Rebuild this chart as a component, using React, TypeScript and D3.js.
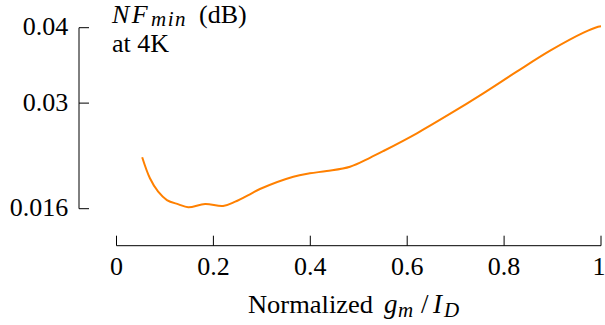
import React from 'react';
import { scaleLinear, line, curveCatmullRom } from 'd3';

// normalized gm/Id vs NFmin at 4K
const gmId = [0.053, 0.069, 0.086, 0.104, 0.128, 0.148, 0.183, 0.220, 0.245, 0.279, 0.296, 0.365, 0.399, 0.434, 0.482, 0.523, 0.551, 0.620, 0.688, 0.757, 0.826, 0.895, 0.964, 0.994, 1.0];
const nfMin = [0.02282, 0.02003, 0.01825, 0.01715, 0.01658, 0.01619, 0.01662, 0.01636, 0.01693, 0.01804, 0.01861, 0.02024, 0.02069, 0.0210, 0.02157, 0.02275, 0.02365, 0.0260, 0.02856, 0.0313, 0.03417, 0.03695, 0.03934, 0.04013, 0.0402];

const xTicks = [0, 0.2, 0.4, 0.6, 0.8, 1];
const yTicks = [0.016, 0.03, 0.04];

const W = 605, H = 325;
const FONT = "'Liberation Serif', 'DejaVu Serif', 'Times New Roman', Times, serif";
const FS = 26;
const SUB = 21;

export default function App() {
  const x = scaleLinear().domain([0, 1]).range([116.5, 601]);
  const y = scaleLinear().domain([0.016, 0.04]).range([208.7, 27.7]);
  const yAxisX = 79;
  const xAxisY = 245.7;

  const pts: [number, number][] = gmId.map((g, i) => [g, nfMin[i]]);
  const path = line<[number, number]>()
    .x((d) => x(d[0]))
    .y((d) => y(d[1]))
    .curve(curveCatmullRom.alpha(0.5))(pts);

  return (
    <svg width={W} height={H} style={{ position: 'absolute', left: 0, top: 0, background: '#fff' }}>
      <g fontFamily={FONT} fill="#000">
        {/* y axis */}
        <line x1={yAxisX} x2={yAxisX} y1={y(0.04)} y2={y(0.016)} stroke="#000" strokeWidth={1} />
        {yTicks.map((t) => (
          <g key={'y' + t}>
            <line x1={yAxisX} x2={yAxisX + 10} y1={y(t)} y2={y(t)} stroke="#000" strokeWidth={1} />
            <text x={68.3} y={y(t) + 7.5} textAnchor="end" fontSize={FS}>{t}</text>
          </g>
        ))}

        {/* x axis */}
        <line x1={x(0)} x2={x(1)} y1={xAxisY} y2={xAxisY} stroke="#000" strokeWidth={1} />
        {xTicks.map((t) => (
          <g key={'x' + t}>
            <line x1={x(t)} x2={x(t)} y1={xAxisY} y2={xAxisY - 10} stroke="#000" strokeWidth={1} />
            <text x={t === 1 ? x(t) - 2 : x(t)} y={275} textAnchor="middle" fontSize={FS}>{t}</text>
          </g>
        ))}

        {/* x label: Normalized g_m / I_D */}
        <text x={248} y={313} fontSize={FS} textLength={125} lengthAdjust="spacingAndGlyphs">Normalized</text>
        <text x={384} y={313} fontSize={27} fontStyle="italic">g</text>
        <text x={398} y={317} fontSize={SUB} fontStyle="italic" letterSpacing={1}>m</text>
        <text x={421} y={313} fontSize={27}>/</text>
        <text x={433} y={313} fontSize={27} fontStyle="italic">I</text>
        <text x={444} y={317} fontSize={SUB} fontStyle="italic">D</text>

        {/* y label: NF_min (dB) at 4K */}
        <text x={112} y={23} fontSize={FS} fontStyle="italic" letterSpacing={2.5}>NF</text>
        <text x={151} y={26} fontSize={SUB} fontStyle="italic" letterSpacing={1.5}>min</text>
        <text x={199} y={23} fontSize={FS}>(dB)</text>
        <text x={112} y={52} fontSize={FS}>at 4K</text>
      </g>

      <path d={path ?? ''} fill="none" stroke="#ff8000" strokeWidth={2} strokeLinejoin="round" />
    </svg>
  );
}
